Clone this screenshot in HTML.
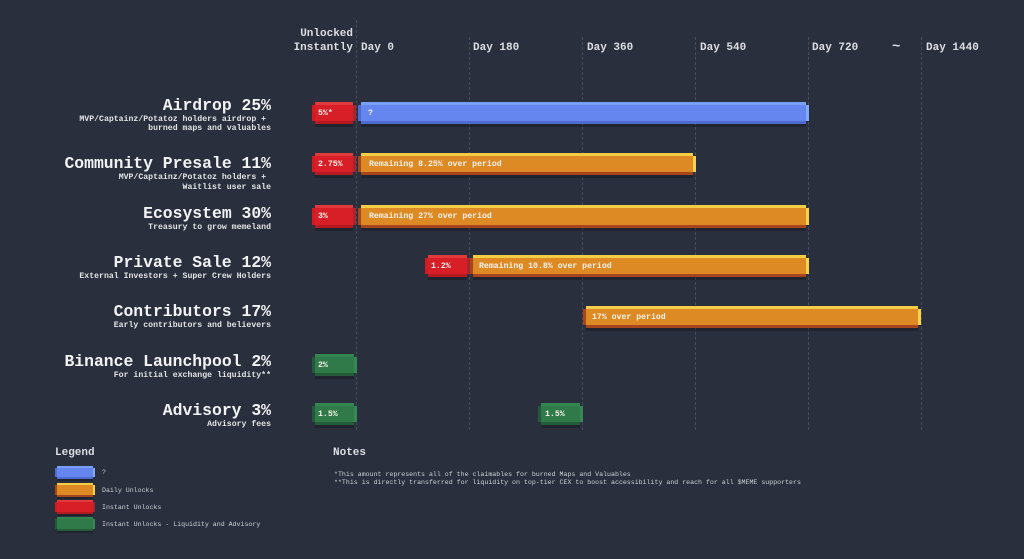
<!DOCTYPE html>
<html><head><meta charset="utf-8"><style>
*{margin:0;padding:0;box-sizing:border-box}
html,body{width:1024px;height:559px;overflow:hidden;background:#292f3c}
body{position:relative;font-family:"Liberation Mono",monospace;color:#eceef2}
.t{position:absolute;white-space:pre;font-weight:bold}
.ti{font-size:16.4px;line-height:16.4px;right:753px;color:#f2f3f5}
.su{font-size:8.2px;line-height:8.2px;right:753px;color:#e2e4e8}
.ax{font-size:11px;line-height:11px;color:#dcdee3}
.sm{font-size:6.6px;line-height:6.6px;font-weight:normal;color:#cfd2d8}
.g{position:absolute;width:0;border-left:1px dashed #464c59;top:37px;height:393px}
.b{position:absolute}
.b .m{position:absolute;left:3px;right:3px;top:0;bottom:0;border-top:3px solid;border-bottom:3px solid}
.b .l{position:absolute;left:0;width:3px;top:3px;bottom:3px}
.b .r{position:absolute;right:0;width:3px;top:3px;bottom:3px}
.b .s{position:absolute;left:3px;right:3px;top:100%;height:3px;background:rgba(0,0,0,0.22)}
.b .x{position:absolute;top:0;bottom:0;display:flex;align-items:center;font-size:8.2px;font-weight:bold;color:#f7f3ec;white-space:pre}
.red .m{background:#d81e26;border-top-color:#e23a3c;border-bottom-color:#b51a20}
.red .l{background:#cc1d24}.red .r{background:#a5262c}
.blue .m{background:#6586ef;border-top-color:#78a0f6;border-bottom-color:#4e6bd2}
.blue .l{background:#4e6bd2}.blue .r{background:#80aaf6}
.or .m{background:#de8a24;border-top-color:#f2cd45;border-bottom-color:#a6451e}
.or .l{background:#a6451e}.or .r{background:#f5d546}
.gr .m{background:#2f7a48;border-top-color:#33864f;border-bottom-color:#245c3a}
.gr .l{background:#24583a}.gr .r{background:#348a52}
.sw .m{border-top-width:2px;border-bottom-width:2px;left:2px;right:2px}
.sw .l,.sw .r{width:2px;top:2px;bottom:2px}
.sw .s{left:2px;right:2px;height:2px}
</style></head><body>

<!-- grid -->
<div class="g" style="left:356px;top:20px;height:410px"></div>
<div class="g" style="left:469px"></div>
<div class="g" style="left:582px"></div>
<div class="g" style="left:695px"></div>
<div class="g" style="left:808px"></div>
<div class="g" style="left:921px"></div>

<!-- axis labels -->
<div class="t ax" style="right:671px;top:29.3px">Unlocked</div>
<div class="t ax" style="right:671px;top:42.6px">Instantly</div>
<div class="t ax" style="left:361px;top:42.6px">Day 0</div>
<div class="t ax" style="left:473px;top:42.6px">Day 180</div>
<div class="t ax" style="left:587px;top:42.6px">Day 360</div>
<div class="t ax" style="left:700px;top:42.6px">Day 540</div>
<div class="t ax" style="left:812px;top:42.6px">Day 720</div>
<div class="t ax" style="left:892px;top:40px;font-size:14px;line-height:14px">~</div>
<div class="t ax" style="left:926px;top:42.6px">Day 1440</div>

<!-- row labels -->
<div class="t ti" style="top:98px">Airdrop 25%</div>
<div class="t su" style="top:115.5px">MVP/Captainz/Potatoz holders airdrop + </div>
<div class="t su" style="top:125px">burned maps and valuables</div>

<div class="t ti" style="top:156.3px">Community Presale 11%</div>
<div class="t su" style="top:174.3px">MVP/Captainz/Potatoz holders + </div>
<div class="t su" style="top:183.8px">Waitlist user sale</div>

<div class="t ti" style="top:206px">Ecosystem 30%</div>
<div class="t su" style="top:223.5px">Treasury to grow memeland</div>

<div class="t ti" style="top:255.3px">Private Sale 12%</div>
<div class="t su" style="top:272.8px">External Investors + Super Crew Holders</div>

<div class="t ti" style="top:304.3px">Contributors 17%</div>
<div class="t su" style="top:322px">Early contributors and believers</div>

<div class="t ti" style="top:353.7px">Binance Launchpool 2%</div>
<div class="t su" style="top:371.5px">For initial exchange liquidity**</div>

<div class="t ti" style="top:403px">Advisory 3%</div>
<div class="t su" style="top:420.8px">Advisory fees</div>

<!-- bars -->
<div class="b red" style="left:312px;top:102px;width:44px;height:22px"><div class="s"></div><div class="l"></div><div class="m"></div><div class="r"></div><div class="x" style="left:6px">5%*</div></div>
<div class="b blue" style="left:358px;top:102px;width:451px;height:22px"><div class="s"></div><div class="l"></div><div class="m"></div><div class="r"></div><div class="x" style="left:10px">?</div></div>

<div class="b red" style="left:312px;top:153px;width:44px;height:22px"><div class="s"></div><div class="l"></div><div class="m"></div><div class="r"></div><div class="x" style="left:6px">2.75%</div></div>
<div class="b or" style="left:358px;top:153px;width:338px;height:22px"><div class="s"></div><div class="l"></div><div class="m"></div><div class="r"></div><div class="x" style="left:11px">Remaining 8.25% over period</div></div>

<div class="b red" style="left:312px;top:205px;width:44px;height:23px"><div class="s"></div><div class="l"></div><div class="m"></div><div class="r"></div><div class="x" style="left:6px">3%</div></div>
<div class="b or" style="left:358px;top:205px;width:451px;height:23px"><div class="s"></div><div class="l"></div><div class="m"></div><div class="r"></div><div class="x" style="left:11px">Remaining 27% over period</div></div>

<div class="b red" style="left:425px;top:255px;width:45px;height:22px"><div class="s"></div><div class="l"></div><div class="m"></div><div class="r"></div><div class="x" style="left:6px">1.2%</div></div>
<div class="b or" style="left:470px;top:255px;width:339px;height:22px"><div class="s"></div><div class="l"></div><div class="m"></div><div class="r"></div><div class="x" style="left:9px">Remaining 10.8% over period</div></div>

<div class="b or" style="left:583px;top:306px;width:338px;height:22px"><div class="s"></div><div class="l"></div><div class="m"></div><div class="r"></div><div class="x" style="left:9px">17% over period</div></div>

<div class="b gr" style="left:312px;top:354px;width:45px;height:22px"><div class="s"></div><div class="l"></div><div class="m"></div><div class="r"></div><div class="x" style="left:6px">2%</div></div>

<div class="b gr" style="left:312px;top:403px;width:45px;height:22px"><div class="s"></div><div class="l"></div><div class="m"></div><div class="r"></div><div class="x" style="left:6px">1.5%</div></div>
<div class="b gr" style="left:538px;top:403px;width:45px;height:22px"><div class="s"></div><div class="l"></div><div class="m"></div><div class="r"></div><div class="x" style="left:7px">1.5%</div></div>

<!-- legend -->
<div class="t ax" style="left:55px;top:448px">Legend</div>
<div class="b blue sw" style="left:55px;top:466px;width:40px;height:13px"><div class="s"></div><div class="l"></div><div class="m"></div><div class="r"></div></div>
<div class="b or sw" style="left:55px;top:483px;width:40px;height:14px"><div class="s"></div><div class="l"></div><div class="m"></div><div class="r"></div></div>
<div class="b red sw" style="left:55px;top:500px;width:40px;height:14px"><div class="s"></div><div class="l"></div><div class="m"></div><div class="r"></div></div>
<div class="b gr sw" style="left:55px;top:517px;width:40px;height:14px"><div class="s"></div><div class="l"></div><div class="m"></div><div class="r"></div></div>
<div class="t sm" style="left:102px;top:469.5px">?</div>
<div class="t sm" style="left:102px;top:487.5px">Daily Unlocks</div>
<div class="t sm" style="left:102px;top:504.9px">Instant Unlocks</div>
<div class="t sm" style="left:102px;top:521.9px">Instant Unlocks - Liquidity and Advisory</div>

<!-- notes -->
<div class="t ax" style="left:333px;top:448px">Notes</div>
<div class="t sm" style="left:334px;top:471.9px">*This amount represents all of the claimables for burned Maps and Valuables</div>
<div class="t sm" style="left:334px;top:480.2px">**This is directly transferred for liquidity on top-tier CEX to boost accessibility and reach for all $MEME supporters</div>

</body></html>
